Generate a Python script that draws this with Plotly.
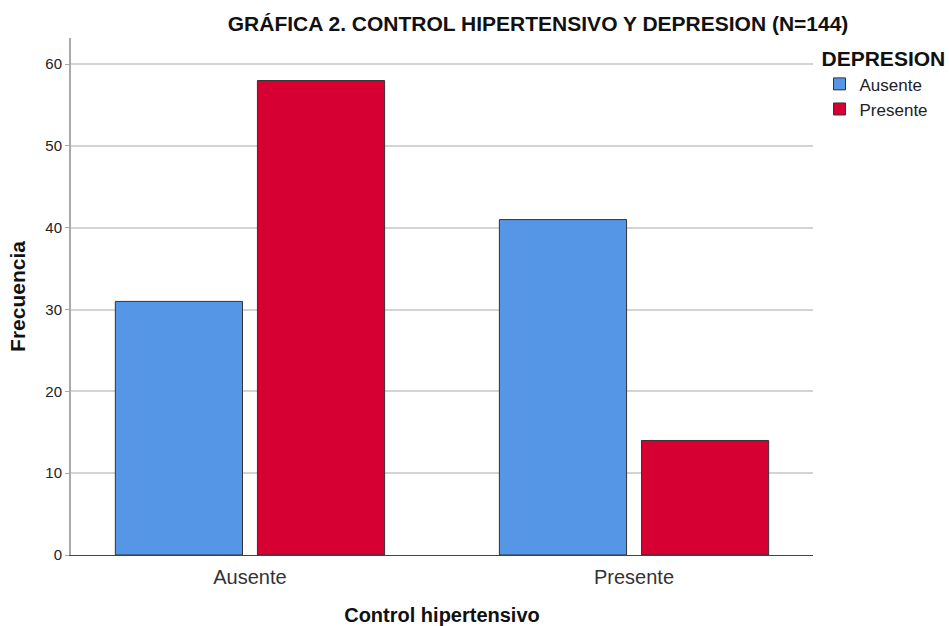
import plotly.graph_objects as go

categories = ["Ausente", "Presente"]
series_names = ["Ausente", "Presente"]
ausente_vals = [31, 41]
presente_vals = [58, 14]
colors = ["#5596E6", "#D60032"]

fig = go.Figure()
for name, vals, col in zip(series_names, [ausente_vals, presente_vals], colors):
    fig.add_trace(go.Bar(
        x=categories, y=vals, name=name,
        marker=dict(color=col, line=dict(color="#333333", width=1)),
    ))

fig.update_layout(
    width=949, height=626,
    margin=dict(l=71, r=136, t=38, b=71, autoexpand=False),
    paper_bgcolor="white", plot_bgcolor="white",
    barmode="group", bargap=0.26, bargroupgap=0.105,
    font=dict(family="Liberation Sans, Arial, sans-serif", color="#000000"),
    title=dict(text="<b>GRÁFICA 2. CONTROL HIPERTENSIVO Y DEPRESION (N=144)</b>",
               x=0.567, xanchor="center", y=0.962, yanchor="middle",
               font=dict(size=21, color="#111111")),
    legend=dict(
        title=dict(text="<b>DEPRESION</b>", font=dict(size=21, color="#111111"), side="top"),
        x=1.0088, xanchor="left", y=0.998, yanchor="top",
        font=dict(size=17, color="#222222"),
        itemwidth=30, tracegroupgap=0,
        bgcolor="rgba(0,0,0,0)",
    ),
    xaxis=dict(
        range=[-0.466, 1.466], automargin=False,
        showline=True, linecolor="#444444", linewidth=1,
        ticks="", tickfont=dict(size=20, color="#333333"), ticklabelstandoff=4,
        title=dict(text="<b>Control hipertensivo</b>", font=dict(size=20, color="#111111"), standoff=20),
        showgrid=False, zeroline=False,
    ),
    yaxis=dict(
        range=[0, 63.2], tickvals=[0, 10, 20, 30, 40, 50, 60], automargin=False,
        showline=True, linecolor="#AAAAAA", linewidth=2,
        ticks="outside", ticklen=4, tickcolor="#AAAAAA",
        tickfont=dict(size=15, color="#222222"),
        showgrid=True, gridcolor="#D4D4D4", gridwidth=2,
        zeroline=False,
        title=dict(text="<b>Frecuencia</b>", font=dict(size=21, color="#111111"), standoff=14),
    ),
)

fig.write_html("out.html", config={"displayModeBar": False},
               post_script="document.body.style.margin='0px';")
